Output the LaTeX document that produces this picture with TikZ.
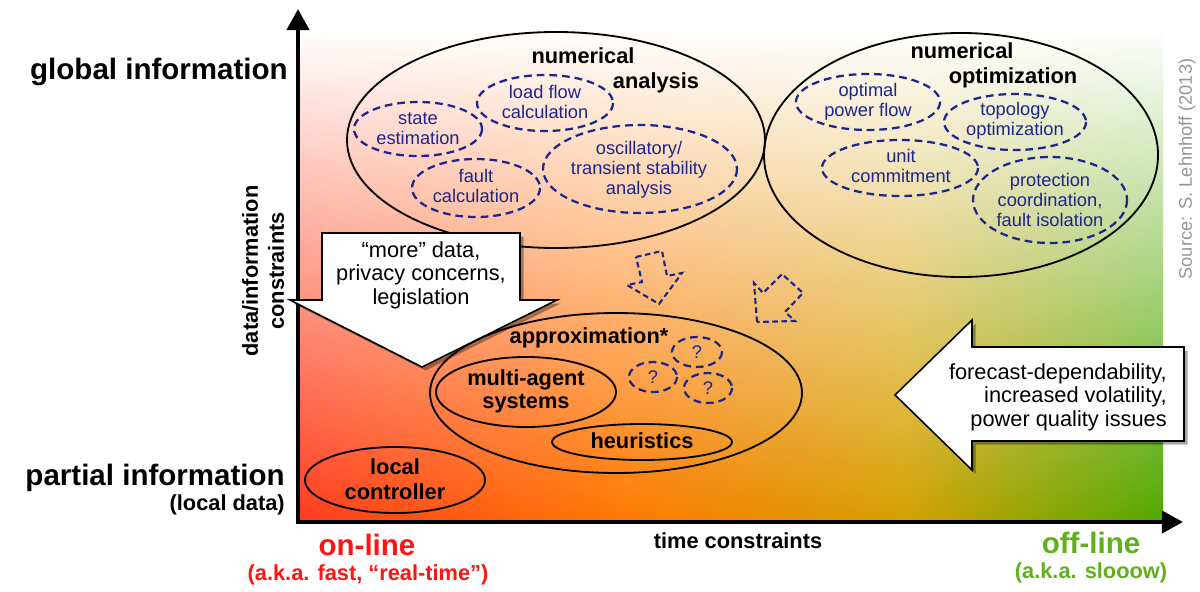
\documentclass[tikz,border=0pt]{standalone}
\usepackage{fontspec}
\setmainfont{Liberation Sans}
\usetikzlibrary{arrows.meta, fadings, shadows}

\definecolor{navyline}{RGB}{28,38,140}
\definecolor{onred}{RGB}{255,20,20}
\definecolor{offgreen}{RGB}{96,176,30}
\definecolor{srcgray}{RGB}{150,150,150}

\pgfdeclarehorizontalshading{timeshade}{100bp}{rgb(0bp)=(1,0.23,0.11); rgb(25bp)=(1,0.23,0.11); rgb(43.5bp)=(1,0.47,0); rgb(60bp)=(0.84,0.63,0); rgb(75bp)=(0.31,0.66,0); rgb(100bp)=(0.31,0.66,0)}
\tikzfading[name=fadewhite, top color=transparent!0, middle color=transparent!45, bottom color=transparent!100]

\tikzset{
  bigell/.style={draw=black, line width=1.3pt},
  dashell/.style={draw=navyline, line width=1.6pt, dash pattern=on 5.5pt off 3.5pt},
  dasharrow/.style={draw=navyline, line width=1.5pt, dash pattern=on 4pt off 2.5pt, line join=miter},
  bluetext/.style={text=navyline, align=center, inner sep=0pt, font=\fontsize{13}{14.2}\selectfont},
  boldtext/.style={inner sep=0pt, font=\fontsize{15.5}{16.5}\selectfont\bfseries},
  plaintext/.style={inner sep=0pt, font=\fontsize{15.5}{16.7}\selectfont},
  biglabel/.style={inner sep=0pt, font=\fontsize{21}{24}\selectfont\bfseries},
  whitearrow/.style={draw=black, fill=white, line width=1.1pt, line join=miter,
    drop shadow={shadow xshift=2.5pt, shadow yshift=-2.5pt, opacity=0.35, fill=black}},
  axisline/.style={line width=3.2pt, {Triangle[length=15pt,width=15.6pt]}-{Triangle[length=15pt,width=15.6pt]}}
}

\begin{document}
\begin{tikzpicture}[x=0.025cm, y=-0.025cm]
\useasboundingbox (0,0) rectangle (1200,591);
% background: fast/red on the left, slow/green on the right, white towards the top
\shade[shading=timeshade] (298,32) rectangle (1163,522);
\fill[white, path fading=fadewhite] (297,30) rectangle (1165,522); % a bit wider, hides the seam
\fill[white] (297,29) rectangle (1166,32.5);

% axes
\coordinate (O) at (298,522);
\coordinate (ytip) at (298,9);
\coordinate (xtip) at (1183,522);
\draw[axisline] (ytip) -- (O) -- (xtip);

\node[biglabel, anchor=base east] (glob) at (288,79) {global information};
\node[biglabel, anchor=base east] (part) at (285,485) {partial information};
\node[boldtext, anchor=base east] (locd) at (285,510) {(local data)};
\node[boldtext, align=center, rotate=90, font=\fontsize{15.5}{18.5}\selectfont\bfseries] (dic) at (263,271) {data/information\\constraints};
\node[boldtext, anchor=base] (tc) at (738,548) {time constraints};
\node[biglabel, text=onred, anchor=base] (on) at (367,555) {on-line};
\node[boldtext, text=onred, anchor=base] (onsub) at (368,580) {(a.k.a. fast, “real-time”)};
\node[biglabel, text=offgreen, anchor=base] (off) at (1091,553) {off-line};
\node[boldtext, text=offgreen, anchor=base] (offsub) at (1091,578) {(a.k.a. slooow)};
\node[rotate=90, text=srcgray, inner sep=0pt, font=\fontsize{13}{15}\selectfont] (src) at (1187,169) {Source: S. Lehnhoff (2013)};

% numerical analysis
\coordinate (na) at (556,140);
\draw[bigell] (na) ellipse (209 and 108);
\node[boldtext, anchor=base] (natop) at (583,64) {numerical};
\node[boldtext, anchor=base] (nabot) at (656,88) {analysis};
\coordinate (se) at (418,129);
\draw[dashell] (se) ellipse (64 and 27);
\node[bluetext] (setxt) at (se) {state\\estimation};
\coordinate (lf) at (545,103);
\draw[dashell] (lf) ellipse (68 and 28);
\node[bluetext] (lftxt) at (545,102) {load flow\\calculation};
\coordinate (fc) at (476,188);
\draw[dashell] (fc) ellipse (64 and 29);
\node[bluetext] (fctxt) at (476,186) {fault\\calculation};
\coordinate (os) at (640,169);
\draw[dashell] (os) ellipse (97 and 44);
\node[bluetext] (ostxt) at (639,170) {oscillatory/\\transient stability\\analysis};

% numerical optimization
\coordinate (no) at (961,155);
\draw[bigell] (no) ellipse (197 and 122);
\node[boldtext, anchor=base] (notop) at (962,59) {numerical};
\node[boldtext, anchor=base] (nobot) at (1013,83) {optimization};
\coordinate (opf) at (868,102);
\draw[dashell] (opf) ellipse (72 and 28);
\node[bluetext] (opftxt) at (opf) {optimal\\power flow};
\coordinate (topo) at (1015,122);
\draw[dashell] (topo) ellipse (71 and 28);
\node[bluetext] (topotxt) at (1015,121) {topology\\optimization};
\coordinate (uc) at (900,168);
\draw[dashell] (uc) ellipse (78 and 28);
\node[bluetext] (uctxt) at (901,166) {unit\\commitment};
\coordinate (prot) at (1050,200);
\draw[dashell] (prot) ellipse (77 and 43);
\node[bluetext] (prottxt) at (prot) {protection\\coordination,\\fault isolation};

% approximation
\coordinate (ap) at (616,393);
\draw[bigell] (ap) ellipse (186 and 80);
\node[boldtext, anchor=base] (aptxt) at (589,343) {approximation*};
\coordinate (ma) at (526,392);
\draw[bigell] (ma) ellipse (90 and 35);
\node[boldtext, align=center] (matxt) at (526,391) {multi-agent\\systems};
\coordinate (heur) at (642,442);
\draw[bigell] (heur) ellipse (90 and 18);
\node[boldtext, anchor=base] (heurtxt) at (642,448) {heuristics};
\coordinate (qa) at (697,352);
\coordinate (qb) at (653,377);
\coordinate (qc) at (708,388);
\draw[dashell] (qa) ellipse (25 and 15) (qb) ellipse (24 and 15) (qc) ellipse (24 and 15);
\node[bluetext] (qatxt) at (qa) {?};
\node[bluetext] (qbtxt) at (qb) {?};
\node[bluetext] (qctxt) at (qc) {?};

% local controller
\coordinate (lc) at (395,480);
\draw[bigell] (lc) ellipse (90 and 33);
\node[boldtext, align=center, font=\fontsize{15.5}{17.8}\selectfont\bfseries] (lctxt) at (395,479) {local\\controller};

% dashed arrows towards the approximation
\draw[dasharrow] (636,257) -- (662,251) -- (667,276) -- (682,273) -- (659,304) -- (627,285) -- (642,282) -- cycle;
\draw[dasharrow] (757,322) -- (754,283) -- (763,293) -- (782,274) -- (803,293) -- (785,312) -- (795,321) -- cycle;

% pressure arrows
\draw[whitearrow] (322,233) -- (520,233) -- (520,300) -- (557,300) -- (422,367) -- (290,300) -- (322,300) -- cycle;
\node[plaintext, align=center] (more) at (421,275) {“more” data,\\privacy concerns,\\legislation};
\draw[whitearrow] (1184,347) -- (1184,441) -- (972,441) -- (972,470) -- (895,395) -- (972,320) -- (972,347) -- cycle;
\node[plaintext, align=right, anchor=east] (fore) at (1167,397) {forecast-dependability,\\increased volatility,\\power quality issues};
\end{tikzpicture}
\end{document}
